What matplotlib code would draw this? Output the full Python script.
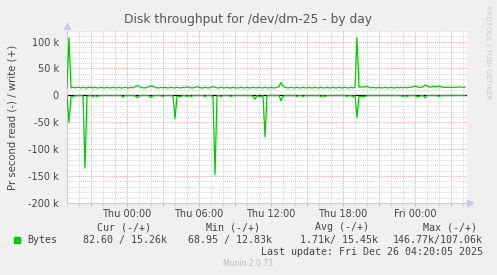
import matplotlib.pyplot as plt
import numpy as np

title = 'Disk throughput for /dev/dm-25 - by day'
ylabel = 'Pr second read (-) / write (+)'

# samples every 10 minutes starting Wed 19:00, values in kB/s
step_min = 10
write_k = [
    14, 107, 14, 15, 14, 15, 15, 14, 15, 14, 14, 15, 15, 14, 15, 14, 14, 15, 14, 14,
    15, 14, 14, 15, 14, 14, 15, 14, 14, 15, 14, 14, 15, 14, 16, 18, 17, 15, 14, 14,
    15, 16, 18, 17, 15, 14, 14, 15, 14, 15, 14, 14, 15, 14, 14, 15, 14, 14, 15, 14,
    16, 15, 14, 14, 15, 16, 15, 14, 14, 15, 14, 14, 15, 16, 15, 14, 14, 15, 14, 14,
    15, 14, 14, 15, 14, 14, 14, 15, 14, 14, 15, 14, 14, 15, 14, 14, 15, 14, 14, 15,
    14, 14, 15, 14, 14, 15, 16, 24, 17, 15, 14, 14, 15, 14, 14, 15, 14, 14, 15, 14,
    14, 15, 14, 14, 15, 14, 14, 15, 14, 14, 15, 14, 14, 15, 14, 14, 15, 14, 14, 15,
    14, 14, 15, 14, 15, 107, 15, 16, 15, 16, 17, 15, 14, 15, 14, 14, 15, 14, 14, 15,
    14, 14, 15, 14, 14, 15, 14, 15, 14, 15, 14, 15, 15, 16, 17, 16, 15, 15, 16, 19,
    18, 16, 15, 17, 16, 17, 17, 16, 15, 15, 15, 15, 15, 15, 15, 15, 16, 15, 15, 15.26,
]
read_k = [
    1.3, 50, 2, 2, 1, 0.3, 0.2, 0.2, 1, 135, 2, 0.3, 0.2, 2, 0.2, 2, 0.2, 0.2, 0.2, 0.2,
    0.2, 0.2, 0.2, 0.2, 0.2, 0.2, 0.2, 0.2, 3, 0.2, 0.2, 0.2, 0.2, 0.2, 0.5, 4, 1, 0.2, 0.2, 0.2,
    0.2, 0.5, 4, 0.5, 0.2, 0.2, 0.2, 0.2, 2, 0.2, 0.2, 0.2, 0.2, 1, 43, 2, 2, 2, 0.2, 0.2,
    2, 0.2, 2, 0.2, 0.2, 0.2, 0.2, 0.2, 0.2, 2, 0.2, 0.2, 0.2, 2, 146.8, 1, 0.2, 2, 0.2, 0.2,
    0.2, 0.2, 2, 0.2, 0.2, 0.2, 0.2, 0.2, 0.2, 0.2, 0.2, 0.2, 0.2, 2, 7, 0.2, 2, 2, 0.5, 77,
    1, 0.2, 0.2, 0.2, 0.2, 0.2, 0.2, 10, 2, 0.2, 0.2, 0.2, 0.2, 0.2, 0.2, 2, 0.2, 0.2, 2, 0.2,
    0.2, 0.2, 0.2, 0.2, 0.2, 0.2, 0.2, 2, 0.2, 2, 0.2, 0.2, 0.2, 0.2, 0.2, 0.2, 0.2, 0.2, 0.2, 0.2,
    2, 0.2, 0.2, 2, 0.5, 41, 2, 2, 2, 2, 0.2, 0.2, 0.2, 0.2, 0.2, 0.2, 0.2, 0.2, 0.2, 0.2,
    0.2, 0.2, 0.2, 0.2, 0.2, 0.2, 0.2, 0.2, 2, 0.2, 2, 0.2, 0.2, 0.2, 0.2, 2, 2, 0.2, 0.2, 4.5,
    0.2, 0.2, 0.2, 0.2, 0.2, 0.2, 2, 0.2, 0.2, 0.2, 0.2, 0.2, 0.2, 0.2, 0.2, 0.2, 0.2, 0.2, 0.2, 0.083,
]

xtick_hours = [5, 11, 17, 23, 29]
xtick_labels = ['Thu 00:00', 'Thu 06:00', 'Thu 12:00', 'Thu 18:00', 'Fri 00:00']
ytick_vals = [100000, 50000, 0, -50000, -100000, -150000, -200000]
ytick_labels = ['100 k', '50 k', '0', '-50 k', '-100 k', '-150 k', '-200 k']

legend_name = 'Bytes'
stat_headers = ['Cur (-/+)', 'Min (-/+)', 'Avg (-/+)', 'Max (-/+)']
stat_values = ['82.60 / 15.26k', '68.95 / 12.83k', '1.71k/ 15.45k', '146.77k/107.06k']
last_update = 'Last update: Fri Dec 26 04:20:05 2025'

green = '#00CC00'
txt = '#444444'
bg = '#F0F0F0'
axis_col = '#C8C8F8'

fig = plt.figure(figsize=(4.97, 2.75), dpi=100, facecolor=bg)
ax = fig.add_axes([67 / 497, 72 / 275, 400 / 497, 172.2 / 275])
ax.set_facecolor('white')

t = np.arange(len(write_k)) * step_min / 60
ax.axhline(0, color='black', lw=0.9, zorder=2)
ax.plot(t, np.array(write_k) * 1000, color=green, lw=0.9, zorder=3)
ax.plot(t, -np.array(read_k) * 1000, color=green, lw=0.9, zorder=3)

ax.set_xlim(0, 400 * 5 / 60)
ax.set_ylim(-200000, 120000)

# grid: hourly / 10k minor, 3-hourly / 50k major
ax.set_xticks(np.arange(2, 34, 3))
ax.set_xticks(np.arange(0, 34, 1), minor=True)
ax.set_xticklabels(['' for _ in np.arange(2, 34, 3)])
ax.set_yticks(ytick_vals, ytick_labels)
ax.set_yticks(np.arange(-200000, 120001, 10000), minor=True)
ax.grid(which='minor', color='#D4D4D4', lw=0.7, ls=(0, (1, 1)))
ax.grid(which='major', color='#E8A8A8', lw=0.7, ls=(0, (1, 1)))
ax.set_axisbelow(True)

ax.tick_params(axis='y', which='both', length=0, labelsize=7, labelcolor=txt, pad=6)
ax.tick_params(axis='x', which='major', length=2, color='#E8A8A8')
ax.tick_params(axis='x', which='minor', length=2, color='#D4D4D4')

for s in ['top', 'right']:
    ax.spines[s].set_visible(False)
for s in ['left', 'bottom']:
    ax.spines[s].set_color(axis_col)
    ax.spines[s].set_linewidth(0.8)
ax.plot([0], [1.03], marker='^', ms=4, color=axis_col, transform=ax.transAxes, clip_on=False)
ax.plot([1.008], [0], marker='>', ms=4, color=axis_col, transform=ax.transAxes, clip_on=False)

for h, lab in zip(xtick_hours, xtick_labels):
    ax.text(h, -0.035, lab, transform=ax.get_xaxis_transform(), ha='center', va='top',
            fontsize=7, color=txt)

fig.text(248 / 497, 1 - 19 / 275, title, ha='center', va='center', fontsize=8.8, color='#555555')
fig.text(13 / 497, 1 - 117 / 275, ylabel, rotation=90, ha='center', va='center',
         fontsize=7.3, color=txt)
fig.text(488 / 497, 1 - 5 / 275, 'RRDTOOL / TOBI OETIKER', rotation=270, ha='center', va='top',
         fontsize=5.3, color='#CCCCCC')

mono = 'DejaVu Sans Mono'
header_x = [124.5, 233, 342, 450]
value_x = [125, 230.5, 338.5, 437.5]
for x, s in zip(header_x, stat_headers):
    fig.text(x / 497, 1 - 227.5 / 275, s, ha='center', va='center', family=mono, fontsize=7.2, color=txt)
for x, s in zip(value_x, stat_values):
    fig.text(x / 497, 1 - 240 / 275, s, ha='center', va='center', family=mono, fontsize=7.2, color=txt)
fig.patches.append(plt.Rectangle((14 / 497, 1 - 243 / 275), 6 / 497, 6 / 275,
                                 transform=fig.transFigure, color=green))
fig.text(27 / 497, 1 - 240 / 275, legend_name, ha='left', va='center', family=mono, fontsize=7.2, color=txt)
fig.text(483 / 497, 1 - 252 / 275, last_update, ha='right', va='center', family=mono, fontsize=7.2, color=txt)
fig.text(248 / 497, 1 - 264 / 275, 'Munin 2.0.73', ha='center', va='center', fontsize=5.5, color='#BBBBBB')

fig.savefig('out.png', dpi=100, facecolor=bg)
